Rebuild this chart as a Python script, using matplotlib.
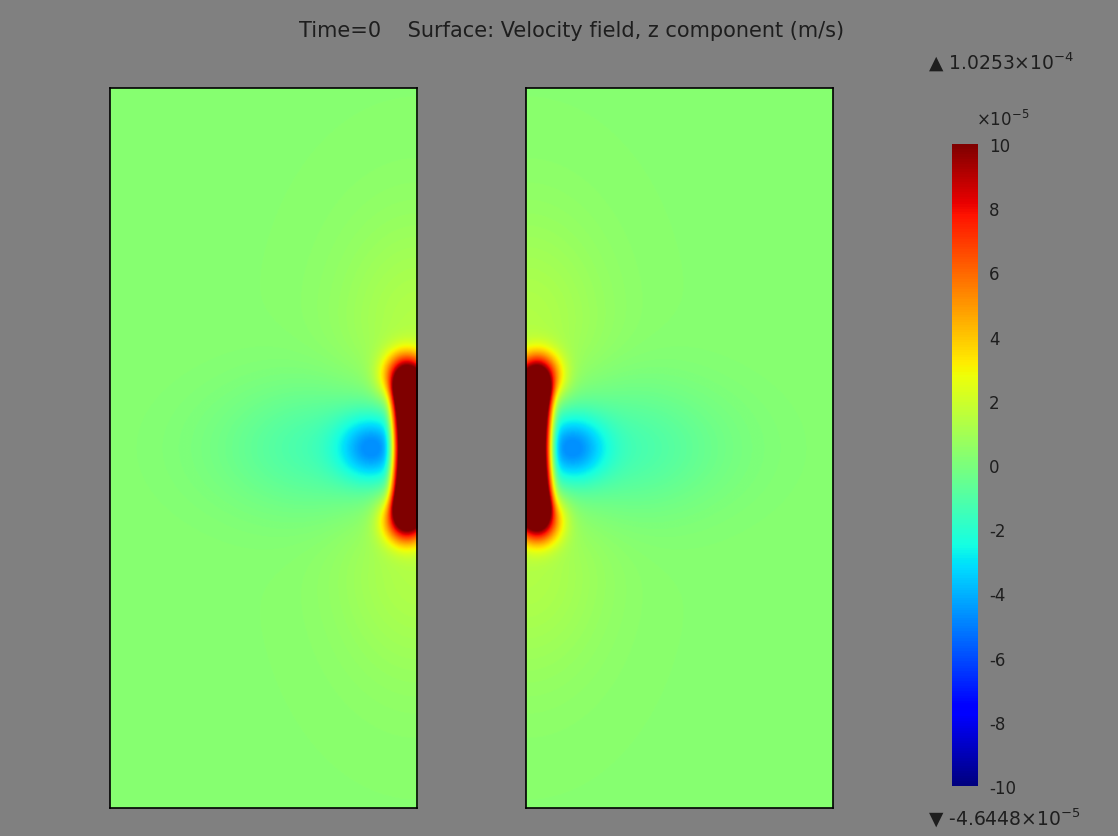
import matplotlib
matplotlib.use("Agg")
import matplotlib.pyplot as plt
import numpy as np

# --- values (units of 1e-5 m/s, lengths in panel pixels) ---
panel_w, panel_h = 307, 720
field_max = 10.253          # ▲ 1.0253e-4
field_min = -4.6448         # ▼ -4.6448e-5
background = 0.3
cbar_ticks = [10, 8, 6, 4, 2, 0, -2, -4, -6, -8, -10]

# dark red strip along the inner edge
strip_amp = 19.0
strip_width = 24.0
strip_half_len = 66.0
# orange bulges at both ends of the strip
lobe_y = [-72.0, 72.0]
lobe_d = 11.0
lobe_amp = 10.0
lobe_spread = [15.0, 16.0]
# yellow-green tint above and below the strip
tint_y = [-115.0, 115.0]
tint_amp = 1.0
tint_spread = [55.0, 80.0]
# blue spot next to the strip, with a wider cyan halo
spot_pos = [44.0, 0.0]
spot_amp = -4.0
spot_spread = 24.0
halo_pos = [75.0, 0.0]
halo_amp = -1.8
halo_spread = [80.0, 45.0]


def gauss(d, y, d0, y0, sd, sy):
    return np.exp(-((d - d0) ** 2 / (2 * sd ** 2) + (y - y0) ** 2 / (2 * sy ** 2)))


def field(d, y):
    f = np.full_like(d, background)
    f += strip_amp * np.exp(-(d / strip_width) ** 4) / (1 + np.exp((np.abs(y) - strip_half_len) / 6))
    for yo in lobe_y:
        f += lobe_amp * gauss(d, y, lobe_d, yo, *lobe_spread)
    for yo in tint_y:
        f += tint_amp * gauss(d, y, 0, yo, *tint_spread)
    f += spot_amp * gauss(d, y, spot_pos[0], spot_pos[1], spot_spread, spot_spread)
    f += halo_amp * gauss(d, y, halo_pos[0], halo_pos[1], *halo_spread)
    return np.clip(f, field_min, field_max)


xs = np.linspace(0, panel_w, 400)
ys = np.linspace(-panel_h / 2, panel_h / 2, 900)
X, Y = np.meshgrid(xs, ys)
F_right = field(X, Y)            # right panel: inner edge on the left
F_left = field(panel_w - X, Y)   # left panel: mirrored

bg = "#808080"
txt = "#1e1e1e"
fig = plt.figure(figsize=(11.18, 8.37), dpi=100, facecolor=bg)
W, H = 1118, 837


def add_ax(x0, y0, w, h):
    return fig.add_axes([x0 / W, 1 - (y0 + h) / H, w / W, h / H])


for x0, F in [(110, F_left), (526, F_right)]:
    ax = add_ax(x0, 89, panel_w, panel_h)
    im = ax.imshow(F, cmap="jet", vmin=-10, vmax=10, origin="lower",
                   extent=[0, panel_w, -panel_h / 2, panel_h / 2], aspect="auto",
                   interpolation="bilinear")
    ax.set_xticks([])
    ax.set_yticks([])
    for s in ax.spines.values():
        s.set_linewidth(1.2)
        s.set_color("black")

cax = add_ax(952, 145, 26, 642)
cb = fig.colorbar(im, cax=cax, ticks=cbar_ticks)
cb.outline.set_visible(False)
cax.tick_params(length=0, labelsize=12, colors=txt, pad=8)
cax.set_yticklabels([str(t) for t in cbar_ticks])

fig.text(572 / W, 1 - 31 / H, "Time=0    Surface: Velocity field, z component (m/s)",
         ha="center", va="center", fontsize=15, color=txt)
fig.text(928 / W, 1 - 62 / H, "\u25B2 1.0253\u00D710$^{-4}$", ha="left", va="center",
         fontsize=13.5, color=txt)
fig.text(1003 / W, 1 - 120 / H, "\u00D710$^{-5}$", ha="center", va="center",
         fontsize=12, color=txt)
fig.text(928 / W, 1 - 818 / H, "\u25BC -4.6448\u00D710$^{-5}$", ha="left", va="center",
         fontsize=13.5, color=txt)

fig.savefig("out.png", dpi=100, facecolor=bg)
